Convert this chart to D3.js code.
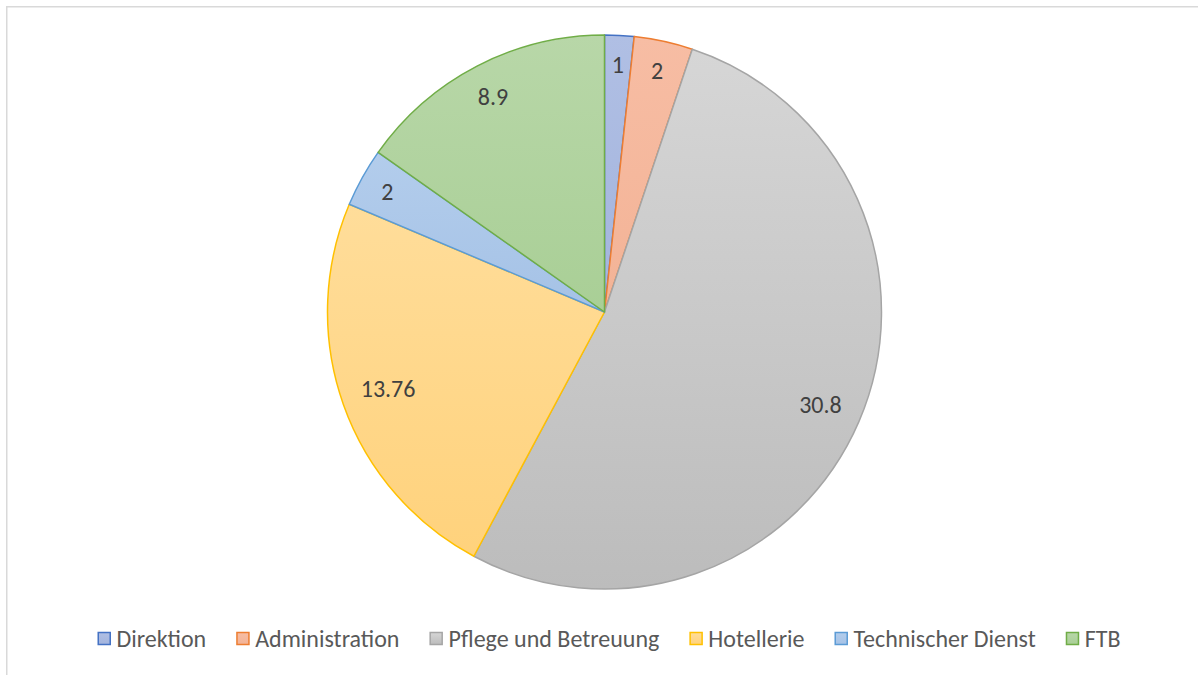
<!DOCTYPE html>
<html>
<head>
<meta charset="utf-8">
<script src="https://cdnjs.cloudflare.com/ajax/libs/d3/7.8.5/d3.min.js"></script>
<style>
  body { margin: 0; background: #fff; }
  svg { display: block; }
</style>
</head>
<body>
<div class="chart"></div>
<script>
var categories = ["Direktion", "Administration", "Pflege und Betreuung", "Hotellerie", "Technischer Dienst", "FTB"];
var values = [1, 2, 30.8, 13.76, 2, 8.9];
var labels = ["1", "2", "30.8", "13.76", "2", "8.9"];

var lineColors = ["#4472C4", "#ED7D31", "#A5A5A5", "#FFC000", "#5B9BD5", "#70AD47"];
var topColors = ["#b0bfe4", "#f7bda4", "#d6d6d6", "#ffdd9a", "#b3cdec", "#b8d7a8"];
var bottomColors = ["#a3b4dd", "#f3b396", "#bcbcbc", "#ffd27c", "#a5c2e6", "#a9cf96"];

var svgWidth = 1198;
var svgHeight = 675;
var cx = 604.5, cy = 312, radius = 277;
var fontStack = "Carlito, Calibri, 'Liberation Sans', sans-serif";

var svg = d3.select(".chart")
  .append("svg")
  .attr("width", svgWidth)
  .attr("height", svgHeight);

// frame (only the top and left edges show in the picture)
svg.append("path")
  .attr("d", "M6.75,675 V6.75 H1198")
  .attr("fill", "none")
  .attr("stroke", "#d9d9d9")
  .attr("stroke-width", 1.5);

var defs = svg.append("defs");
categories.forEach(function(c, i) {
  var g = defs.append("linearGradient")
    .attr("id", "grad" + i)
    .attr("x1", 0).attr("y1", 0).attr("x2", 0).attr("y2", 1);
  g.append("stop").attr("offset", "0%").attr("stop-color", topColors[i]);
  g.append("stop").attr("offset", "100%").attr("stop-color", bottomColors[i]);
});

var data = categories.map(function(c, i) { return { name: c, value: values[i], label: labels[i], i: i }; });

var pie = d3.pie().sort(null).value(d => d.value);
var arc = d3.arc().innerRadius(0).outerRadius(radius);
var arcs = pie(data);

var chartGroup = svg.append("g")
  .attr("transform", `translate(${cx}, ${cy})`);

chartGroup.selectAll("path.slice")
  .data(arcs)
  .enter()
  .append("path")
  .attr("class", "slice")
  .attr("d", arc)
  .attr("fill", d => `url(#grad${d.data.i})`)
  .attr("stroke", d => lineColors[d.data.i])
  .attr("stroke-width", 1.5)
  .attr("stroke-linejoin", "round");

// labels: inside end, text box pulled in from the edge
var pad = 18;
chartGroup.selectAll("text.lbl")
  .data(arcs)
  .enter()
  .append("text")
  .attr("class", "lbl")
  .attr("text-anchor", "middle")
  .attr("dy", "0.35em")
  .style("font-family", fontStack)
  .style("font-size", "24px")
  .style("fill", "#404040")
  .text(d => d.data.label)
  .each(function(d) {
    var bb = this.getBBox();
    var a = (d.startAngle + d.endAngle) / 2;
    var s = Math.sin(a), c = Math.cos(a);
    var ext = Math.abs(bb.width / 2 * s) + Math.abs(bb.height / 2 * 0.75 * c);
    var r = radius - pad - ext;
    d3.select(this).attr("x", r * s).attr("y", -r * c);
  });

// legend
var legend = svg.append("g");
var x = 0;
categories.forEach(function(c, i) {
  var item = legend.append("g").attr("transform", `translate(${x}, 0)`);
  item.append("rect")
    .attr("x", 0.75).attr("y", -6.5)
    .attr("width", 12).attr("height", 12)
    .attr("fill", `url(#grad${i})`)
    .attr("stroke", lineColors[i])
    .attr("stroke-width", 1.5);
  var t = item.append("text")
    .attr("x", 19)
    .attr("dy", "0.35em")
    .style("font-family", fontStack)
    .style("font-size", "24px")
    .style("fill", "#595959")
    .text(c);
  x += 19 + t.node().getComputedTextLength() + 30;
});
x -= 30;
legend.attr("transform", `translate(${(97 + 1121) / 2 - x / 2}, 639)`);
</script>
</body>
</html>
